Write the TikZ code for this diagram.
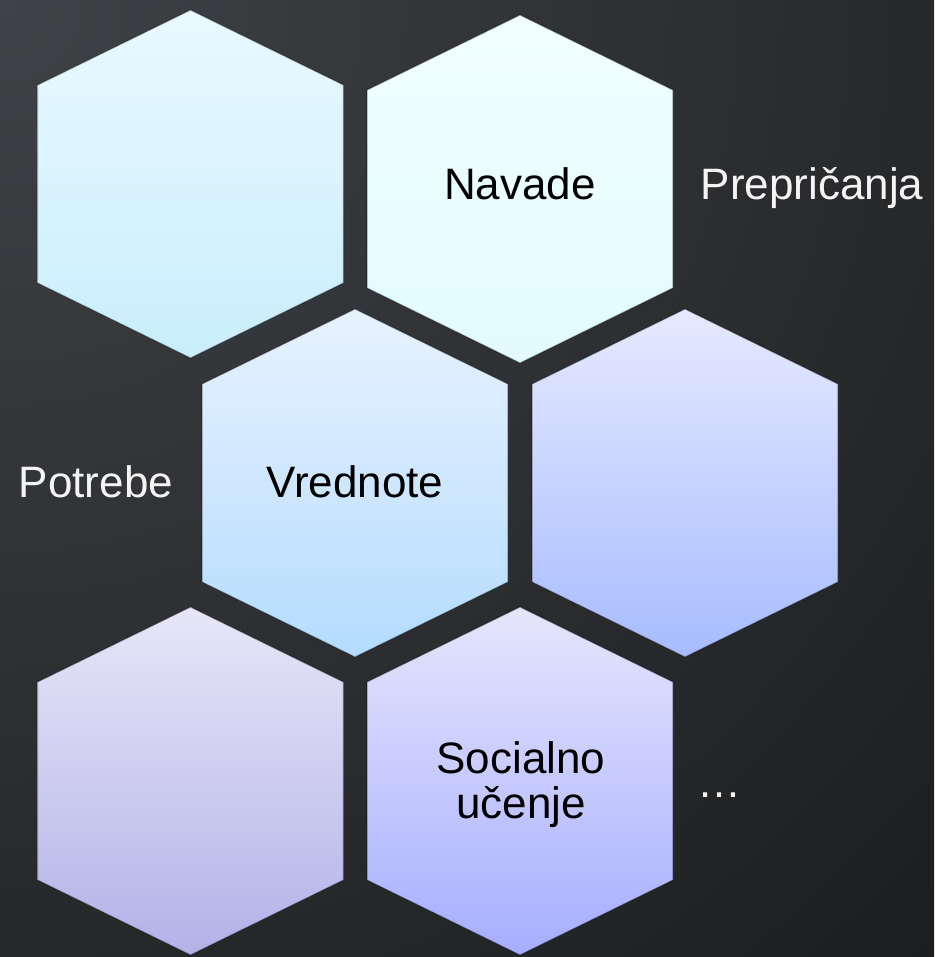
\documentclass[tikz,border=0pt]{standalone}
\usepackage{fontspec}
\setmainfont{Liberation Sans}
\definecolor{bgA}{HTML}{3F4246}
\definecolor{bgB}{HTML}{080808}
\definecolor{hAt}{HTML}{E9F9FF}\definecolor{hAb}{HTML}{C9EEFC}
\definecolor{hBt}{HTML}{F2FFFF}\definecolor{hBb}{HTML}{E2FBFF}
\definecolor{hCt}{HTML}{E8F2FF}\definecolor{hCb}{HTML}{B4DCFE}
\definecolor{hDt}{HTML}{E6EAFF}\definecolor{hDb}{HTML}{A7BCFF}
\definecolor{hEt}{HTML}{E8E6F8}\definecolor{hEb}{HTML}{B2B2E8}
\definecolor{hFt}{HTML}{E6E6FC}\definecolor{hFb}{HTML}{A6AEFF}
\definecolor{outtext}{HTML}{F4F4F4}
\newcommand\hexcell[4]{%
  \shade[top color=#3, bottom color=#4, draw=black, draw opacity=0.35, line width=1.2]
    (#1,#2) -- ++(153,75) -- ++(0,198) -- ++(-153,75) -- ++(-153,-75) -- ++(0,-198) -- cycle;}
\tikzset{
  lbl/.style={inner sep=0pt, anchor=base, font=\fontsize{44}{45}\selectfont},
  intext/.style={lbl, text=black},
  exttext/.style={lbl, text=outtext}
}
\begin{document}
\begin{tikzpicture}[x=1pt,y=-1pt]
\useasboundingbox (0,0) rectangle (934,957);
\begin{scope}
  \clip (0,0) rectangle (934,957);
  \shade[inner color=bgA, outer color=bgB] (0,0) circle (2100);
\end{scope}
\hexcell{190.5}{10}{hAt}{hAb}
\hexcell{520}{15}{hBt}{hBb}
\hexcell{355}{309}{hCt}{hCb}
\hexcell{685}{309}{hDt}{hDb}
\hexcell{190.5}{607}{hEt}{hEb}
\hexcell{520}{607}{hFt}{hFb}
\node[intext] (navade) at (520,200) {Navade};
\node[exttext] (prepricanja) at (812,200) {Prepričanja};
\node[exttext] (potrebe) at (96,497) {Potrebe};
\node[intext] (vrednote) at (355,497) {Vrednote};
\node[intext, align=center] (socialno) at (521,818) {Socialno\\učenje};
\node[exttext] (dots) at (719,797) {…};
\end{tikzpicture}
\end{document}
